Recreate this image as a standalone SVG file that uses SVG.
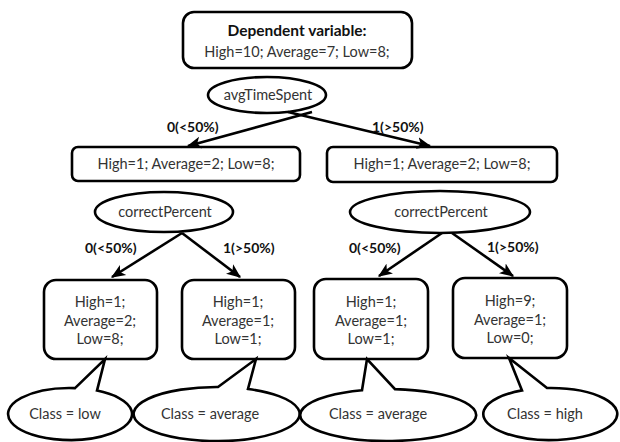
<svg xmlns="http://www.w3.org/2000/svg" width="620" height="442" viewBox="0 0 620 442">
<style>
.s{fill:#fff;stroke:#000;stroke-width:2.6}
.t{font-family:Lato,"Open Sans","Liberation Sans",sans-serif;font-size:14.5px;fill:#333;text-anchor:middle}
.b{font-family:Lato,"Open Sans","Liberation Sans",sans-serif;font-size:14px;font-weight:bold;fill:#111}
.c{stroke:#000;stroke-width:2.6;fill:none;marker-end:url(#ah)}
</style>
<defs>
<marker id="ah" viewBox="0 0 12 10" refX="11" refY="5" markerWidth="5.5" markerHeight="5" orient="auto" markerUnits="strokeWidth">
<path d="M0,0 L12,5 L0,10 L3,5 Z" fill="#000"/>
</marker>
</defs>
<rect width="620" height="442" fill="#fff"/>
<g id="root">
<rect class="s" x="183" y="12" width="229" height="56" rx="11"/>
<text class="t" x="297" y="36" style="font-weight:bold;font-size:15.5px;fill:#111">Dependent variable:</text>
<text class="t" x="297" y="57">High=10; Average=7; Low=8;</text>
</g>
<g id="avgTimeSpent">
<ellipse class="s" cx="267" cy="95" rx="59" ry="18"/>
<text class="t" x="268" y="100">avgTimeSpent</text>
</g>
<g id="left1">
<rect class="s" x="72" y="147" width="228" height="34" rx="6"/>
<text class="t" x="186" y="169">High=1; Average=2; Low=8;</text>
</g>
<g id="right1">
<rect class="s" x="327" y="147" width="230" height="35" rx="6"/>
<text class="t" x="442" y="169">High=1; Average=2; Low=8;</text>
</g>
<g id="cpLeft">
<ellipse class="s" cx="164" cy="212" rx="69" ry="20"/>
<text class="t" x="165" y="217">correctPercent</text>
</g>
<g id="cpRight">
<ellipse class="s" cx="440" cy="212" rx="90" ry="21"/>
<text class="t" x="441" y="217">correctPercent</text>
</g>
<g id="leaf1">
<rect class="s" x="44" y="280" width="113" height="79" rx="12"/>
<text class="t" x="100" y="307">High=1;</text>
<text class="t" x="100" y="325.5">Average=2;</text>
<text class="t" x="100" y="344">Low=8;</text>
</g>
<g id="leaf2">
<rect class="s" x="182" y="280" width="113" height="79" rx="12"/>
<text class="t" x="238" y="307">High=1;</text>
<text class="t" x="238" y="325.5">Average=1;</text>
<text class="t" x="238" y="344">Low=1;</text>
</g>
<g id="leaf3">
<rect class="s" x="314" y="279" width="114" height="80" rx="12"/>
<text class="t" x="371" y="307">High=1;</text>
<text class="t" x="371" y="325.5">Average=1;</text>
<text class="t" x="371" y="344">Low=1;</text>
</g>
<g id="leaf4">
<rect class="s" x="453" y="278" width="114" height="80" rx="12"/>
<text class="t" x="510" y="306">High=9;</text>
<text class="t" x="510" y="324.5">Average=1;</text>
<text class="t" x="510" y="343">Low=0;</text>
</g>
<g id="class1">
<path class="s" d="M75,388.1 L105,359 L97,390.6 A62 26 0 1 1 75,388.1 Z"/>
<text class="t" x="65" y="419">Class = low</text>
</g>
<g id="class2">
<path class="s" d="M218,387 L256,359 L248,389 A83 27 0 1 1 218,387 Z"/>
<text class="t" x="210" y="419">Class = average</text>
</g>
<g id="class3">
<path class="s" d="M362,390.2 L367,359 L395,389.1 A88 26 0 1 1 362,390.2 Z"/>
<text class="t" x="378" y="419">Class = average</text>
</g>
<g id="class4">
<path class="s" d="M522,390.4 L509,358 L547,388 A67 26 0 1 1 522,390.4 Z"/>
<text class="t" x="545" y="419">Class = high</text>
</g>
<g id="connectors">
<path class="c" d="M312,112 L188,146"/>
<path class="c" d="M288,112 L430,146"/>
<path class="c" d="M182,233 L112,277"/>
<path class="c" d="M182,233 L240,277"/>
<path class="c" d="M442,233 L379,276"/>
<path class="c" d="M452,233 L513,276"/>
<text class="b" x="167" y="132">0(&lt;50%)</text>
<text class="b" x="372" y="132">1(&gt;50%)</text>
<text class="b" x="85" y="253">0(&lt;50%)</text>
<text class="b" x="223" y="253">1(&gt;50%)</text>
<text class="b" x="349" y="253">0(&lt;50%)</text>
<text class="b" x="487" y="252">1(&gt;50%)</text>
</g>
</svg>
